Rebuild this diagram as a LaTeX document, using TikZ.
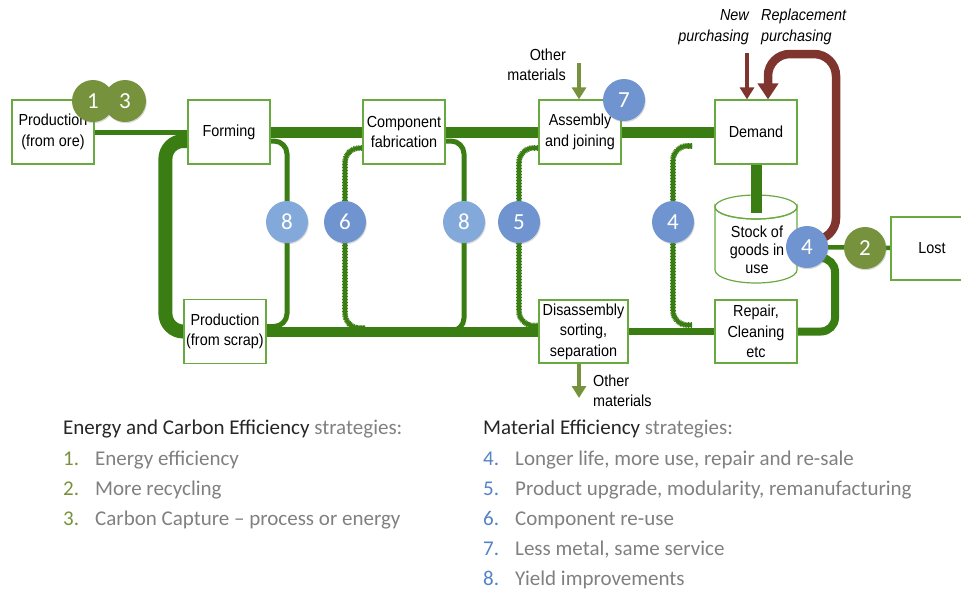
\documentclass[tikz,border=0pt]{standalone}
\usepackage{fontspec}
\setmainfont{Liberation Sans}
\newfontfamily\boxfont[FakeStretch=0.9]{Liberation Sans}
\newfontfamily\notefont{Carlito}
\usetikzlibrary{arrows.meta,shadows,backgrounds}

\definecolor{flowgreen}{RGB}{58,125,18}
\definecolor{boxgreen}{RGB}{104,170,64}
\definecolor{olivedot}{RGB}{118,146,60}
\definecolor{bluedot}{RGB}{111,148,208}
\definecolor{paledot}{RGB}{131,169,219}
\definecolor{buyred}{RGB}{128,52,46}
\definecolor{notegrey}{RGB}{128,128,128}
\definecolor{notedark}{RGB}{38,38,38}
\definecolor{noteblue}{RGB}{84,130,200}

\begin{document}
\begin{tikzpicture}[x=1pt,y=-1pt,
	stage/.style={draw=boxgreen, line width=1.2pt, fill=white, minimum width=82pt, minimum height=64pt, inner sep=1pt, align=center, font=\boxfont\fontsize{16}{20.5}\selectfont},
	badge/.style={circle, minimum size=42pt, inner sep=0pt, text=white, font=\notefont\fontsize{23}{23}\selectfont, drop shadow={opacity=0.3, shadow xshift=0.8pt, shadow yshift=-1.2pt}},
	flow/.style={draw=flowgreen},
	rope/.style={draw=flowgreen, line width=3.6pt, postaction={draw=flowgreen, line width=5.6pt, dash pattern=on 0.8pt off 0.7pt}},
	feed/.style={draw=olivedot, line width=3.5pt, -{Triangle[width=14pt,length=12pt]}},
	buy/.style={draw=buyred},
	flowtext/.style={inner sep=0pt, font=\boxfont\fontsize{16}{20.5}\selectfont},
	note/.style={anchor=base west, inner sep=0pt, text=notegrey, font=\notefont\fontsize{21}{25}\selectfont}]

	\useasboundingbox (0,0) rectangle (961,592);

	\node[stage] (ore) at (53,132) {Production\\(from ore)};
	\node[stage] (forming) at (229,132) {Forming};
	\node[stage] (comp) at (404,132) {Component\\fabrication};
	\node[stage] (assembly) at (580,132) {Assembly\\and joining};
	\node[stage] (demand) at (756,132) {Demand};
	\node[stage] (scrap) at (225,331.5) {Production\\(from scrap)};
	\node[stage, minimum width=89pt, minimum height=63pt] (disasm) at (583.5,331.5) {Disassembly\\sorting,\\separation};
	\node[stage, minimum height=63pt] (repair) at (756,331.5) {Repair,\\Cleaning\\etc};
	\node[stage, minimum height=63pt] (lost) at (932,248.5) {Lost};

	\filldraw[draw=boxgreen, fill=white, line width=1.2pt] (715,207) -- (715,270) arc[start angle=180, end angle=0, x radius=41, y radius=13] -- (797,207) arc[start angle=0, end angle=180, x radius=41, y radius=12] -- cycle;
	\draw[draw=boxgreen, line width=1.2pt] (756,207) ellipse[x radius=41, y radius=12];
	\coordinate (stocktop) at (756,213);
	\draw[flow, line width=11pt] (demand.south) -- (stocktop);
	\node[flowtext, align=center, font=\boxfont\fontsize{16}{18}\selectfont] (stock) at (757,250) {Stock of\\goods in\\use};

	\node[badge, fill=olivedot] (c3) at (125,101) {3};
	\node[badge, fill=olivedot] (c1) at (93,101) {1};
	\node[badge, fill=paledot] (c8a) at (287,222) {8};
	\node[badge, fill=bluedot] (c6) at (345,222) {6};
	\node[badge, fill=paledot] (c8b) at (464,222) {8};
	\node[badge, fill=bluedot] (c5) at (519,222) {5};
	\node[badge, fill=bluedot] (c4m) at (673,222) {4};
	\node[badge, fill=bluedot] (c7) at (624,100) {7};
	\node[badge, fill=bluedot] (c4s) at (807,247) {4};
	\node[badge, fill=olivedot] (c2) at (865,248) {2};

	\begin{scope}[on background layer]
		\draw[flow, line width=5pt] (ore) -- (forming);
		\draw[flow, line width=11pt] (forming) -- (demand);
		\draw[flow, line width=14pt, rounded corners=18pt] ([shift={(6pt,-9pt)}]forming.west) -| ([xshift=-18pt]scrap.west) -- ([xshift=6pt]scrap.west);
		\draw[flow, line width=5pt, rounded corners=13pt] ([shift={(-4pt,-9pt)}]forming.east) -| (c8a.center) |- ([shift={(-4pt,5pt)}]scrap.east);
		\draw[flow, line width=5pt, rounded corners=13pt] ([shift={(-4pt,-9pt)}]comp.east) -| (c8b.center) |- ++(-26,109);
		\draw[rope, rounded corners=14pt] ([shift={(4pt,-16pt)}]comp.west) -| (c6.center) |- ++(20,106);
		\draw[rope, rounded corners=14pt] ([shift={(4pt,-16pt)}]assembly.west) -| (c5.center) |- ([shift={(4pt,6pt)}]disasm.west);
		\draw[rope, rounded corners=14pt] ([shift={(19pt,76pt)}]c4m.center) -| (c4m.center) |- ++(19,103);
		\draw[flow, line width=10pt] (scrap) -- (disasm);
		\draw[flow, line width=7pt] (disasm) -- (repair);
		\draw[flow, line width=8pt, rounded corners=14pt] (repair) -| ([shift={(28pt,-11pt)}]c4s.center) -- ([yshift=-11pt]c4s.center);
		\draw[flow, line width=4.5pt] (c4s) -- (lost);
		\coordinate (replace) at (836,54);
		\draw[buy, line width=8.5pt, rounded corners=22pt, -{Triangle[width=20pt,length=16pt]}] ([shift={(5pt,7pt)}]c4s.center) -| (replace) -| ([xshift=12pt]demand.north);
	\end{scope}

	\coordinate (newbuy) at (747,53);
	\draw[buy, line width=4pt, -{Triangle[width=14pt,length=12pt]}] (newbuy) -- (newbuy |- demand.north);
	\coordinate (otherin) at (579,63);
	\draw[feed] (otherin) -- (otherin |- assembly.north);
	\coordinate (otherout) at (579,398);
	\draw[feed] (otherout |- disasm.south) -- (otherout);

	\node[flowtext, anchor=east, align=right] (othertop) at (566,65) {Other\\materials};
	\node[flowtext, anchor=west, align=left] (otherbottom) at (593,391) {Other\\materials};
	\node[flowtext, anchor=east, align=right, font=\boxfont\itshape\fontsize{16}{21}\selectfont] (newtext) at (749,27) {New\\purchasing};
	\node[flowtext, anchor=west, align=left, font=\boxfont\itshape\fontsize{16}{21}\selectfont] (repltext) at (761,27) {Replacement\\purchasing};

	\node[note, text=notedark] (energy) at (63,434) {Energy and Carbon Efficiency \textcolor{notegrey}{strategies:}};
	\node[note] (s1) at (63,465) {\makebox[32pt][l]{\textcolor{olivedot}{1.}}Energy efficiency};
	\node[note] (s2) at (63,495) {\makebox[32pt][l]{\textcolor{olivedot}{2.}}More recycling};
	\node[note] (s3) at (63,525) {\makebox[32pt][l]{\textcolor{olivedot}{3.}}Carbon Capture \textendash{} process or energy};

	\node[note, text=notedark] (material) at (483,434) {Material Efficiency \textcolor{notegrey}{strategies:}};
	\node[note] (s4) at (483,465) {\makebox[32pt][l]{\textcolor{noteblue}{4.}}Longer life, more use, repair and re-sale};
	\node[note] (s5) at (483,495) {\makebox[32pt][l]{\textcolor{noteblue}{5.}}Product upgrade, modularity, remanufacturing};
	\node[note] (s6) at (483,525) {\makebox[32pt][l]{\textcolor{noteblue}{6.}}Component re-use};
	\node[note] (s7) at (483,555) {\makebox[32pt][l]{\textcolor{noteblue}{7.}}Less metal, same service};
	\node[note] (s8) at (483,585) {\makebox[32pt][l]{\textcolor{noteblue}{8.}}Yield improvements};

\end{tikzpicture}
\end{document}
